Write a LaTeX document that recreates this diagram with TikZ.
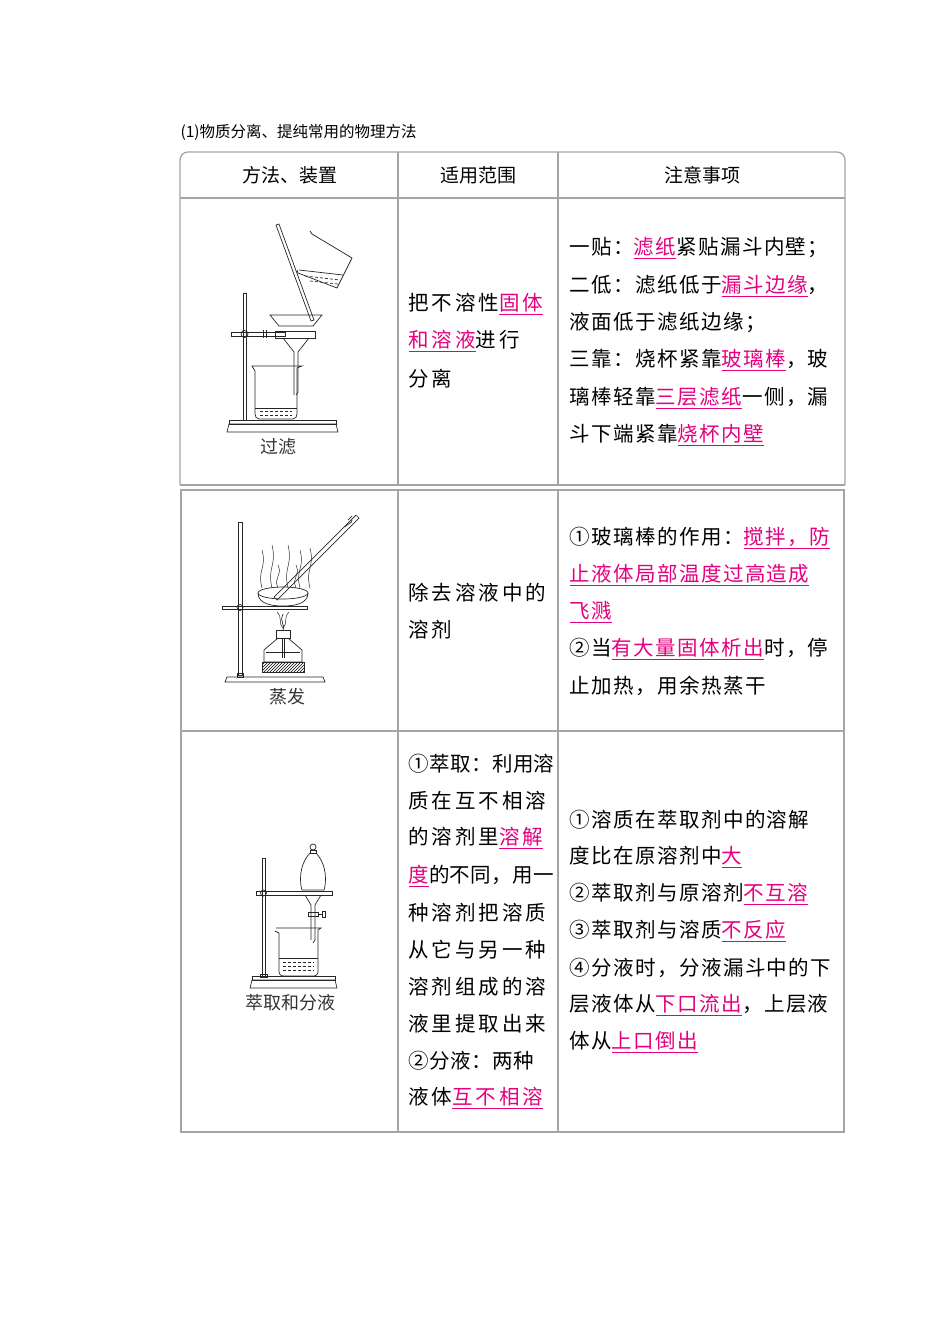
\documentclass[tikz,border=0pt]{standalone}
\usepackage{fontspec}
\setmainfont{Noto Sans CJK SC}
\usetikzlibrary{patterns}
\definecolor{pk}{RGB}{228,0,127}
\definecolor{bd}{RGB}{165,165,165}
\newcommand\hl[1]{{\color{pk}\underline{#1}}}
\tikzset{
 frame/.style={bd,line width=1.3pt},
 app/.style={line width=0.7pt,black!85},
 ta/.style={anchor=west,font=\fontsize{20.5}{20.5}\selectfont\addfontfeature{LetterSpace=7}},
 tb/.style={anchor=west,font=\fontsize{20.5}{20.5}\selectfont\addfontfeature{LetterSpace=14}},
 tc/.style={anchor=west,font=\fontsize{20.5}{20.5}\selectfont\addfontfeature{LetterSpace=2}},
 hd/.style={font=\fontsize{19}{19}\selectfont},
 lab/.style={font=\fontsize{18}{18}\selectfont,black!80},
}
\begin{document}
\begin{tikzpicture}[x=1pt,y=-1pt]
\useasboundingbox (0,0) rectangle (950,1344);
\node[anchor=west,font=\fontsize{15.5}{15.5}\selectfont] (title) at (177,132) {(1)物质分离、提纯常用的物理方法};
% frame 1
\draw[frame,rounded corners=8pt] (180,485) -- (180,152) -- (845,152) -- (845,485);
\draw[frame] (180,485) -- (845,485);
\draw[frame] (180,198) -- (845,198);
\draw[frame] (398,152) -- (398,485) (558,152) -- (558,485);
% frame 2
\draw[frame] (181,490) rectangle (844,1132);
\draw[frame] (181,731) -- (844,731);
\draw[frame] (398,490) -- (398,1132) (558,490) -- (558,1132);
% headers
\node[hd] (h1) at (290,175) {方法、装置};
\node[hd] (h2) at (478,175) {适用范围};
\node[hd] (h3) at (702,175) {注意事项};
% row 1
\node[tb] (a1) at (405,304) {把不溶性\hl{固体}};
\node[tb] (a2) at (405,341) {\hl{和溶液}进行};
\node[tb] (a3) at (405,379) {分离};
\node[ta] (b1) at (566,248) {一贴：\hl{滤纸}紧贴漏斗内壁；};
\node[ta] (b2) at (566,286) {二低：滤纸低于\hl{漏斗边缘}，};
\node[ta] (b3) at (566,323) {液面低于滤纸边缘；};
\node[ta] (b4) at (566,360) {三靠：烧杯紧靠\hl{玻璃棒}，玻};
\node[ta] (b5) at (566,398) {璃棒轻靠\hl{三层滤纸}一侧，漏};
\node[ta] (b6) at (566,435) {斗下端紧靠\hl{烧杯内壁}};
% row 2
\node[tb] (c1) at (405,593) {除去溶液中的};
\node[tb] (c2) at (405,630) {溶剂};
\node[ta] (d1) at (566,538) {①玻璃棒的作用：\hl{搅拌，防}};
\node[ta] (d2) at (566,575) {\hl{止液体局部温度过高造成}};
\node[ta] (d3) at (566,612) {\hl{飞溅}};
\node[ta] (d4) at (566,649) {②当\hl{有大量固体析出}时，停};
\node[ta] (d5) at (566,686) {止加热，用余热蒸干};
% row 3
\node[tc] (e1) at (405,764) {①萃取：利用溶};
\node[tb] (e2) at (405,801) {质在互不相溶};
\node[tb] (e3) at (405,838) {的溶剂里\hl{溶解}};
\node[tc] (e4) at (405,876) {\hl{度}的不同，用一};
\node[tb] (e5) at (405,913) {种溶剂把溶质};
\node[tb] (e6) at (405,950) {从它与另一种};
\node[tb] (e7) at (405,987) {溶剂组成的溶};
\node[tb] (e8) at (405,1024) {液里提取出来};
\node[tc] (e9) at (405,1061) {②分液：两种};
\node[tb] (e10) at (405,1098) {液体\hl{互不相溶}};
\node[ta] (f1) at (566,820) {①溶质在萃取剂中的溶解};
\node[ta] (f2) at (566,857) {度比在原溶剂中\hl{大}};
\node[ta] (f3) at (566,894) {②萃取剂与原溶剂\hl{不互溶}};
\node[ta] (f4) at (566,931) {③萃取剂与溶质\hl{不反应}};
\node[ta] (f5) at (566,968) {④分液时，分液漏斗中的下};
\node[ta] (f6) at (566,1005) {层液体从\hl{下口流出}，上层液};
\node[ta] (f7) at (566,1042) {体从\hl{上口倒出}};
% labels
\node[lab] (l1) at (278,447) {过滤};
\node[lab] (l2) at (287,697) {蒸发};
\node[lab] (l3) at (290,1003) {萃取和分液};

% ---- filtration apparatus
\begin{scope}[app]
\draw (227,432) -- (229,424) -- (336,424) -- (338,432) -- cycle;
\draw (229,420) rectangle (336,424);
\draw (243,293) rectangle (246,420);
\draw (231,332) rectangle (285,336);
\draw (244.5,334) circle (3.5);
\draw (263,330) -- (263,338) (266,330) -- (266,338);
\draw (275,331) rectangle (315,338);
\draw (270,315) -- (322,315) -- (313,326) -- (279,326) -- cycle;
\draw (283,338) -- (294,352) -- (294,395) (309,338) -- (298,352) -- (298,392) -- (296,395);
\draw (255,371) -- (255,414) to[out=-90,in=180] (259,419) -- (293,419) to[out=0,in=-90] (297,414) -- (297,368) -- (302,366) -- (252,366) -- (255,371);
\draw (255,408) -- (297,408);
\draw[densely dashed] (260,411) -- (292,411) (260,415) -- (292,415);
\draw (276,225) -- (279,224) -- (314,320) -- (311,321) -- cycle;
% tilted beaker
\draw (310,231) -- (312,234) -- (352,258) -- (337,288) -- (298,273) -- (297,270);
\draw (299,270) -- (343,275);
\draw[densely dashed] (305,276) -- (340,280) (310,281) -- (338,284);
\end{scope}

% ---- evaporation apparatus
\begin{scope}[app]
\draw (225,682) -- (227,677) -- (323,677) -- (325,682) -- cycle;
\draw (238,522) rectangle (242,675);
\draw (237,673) rectangle (243,677);
\draw (222,606) rectangle (307,609);
\draw (240,607.5) circle (3);
\draw (258,593) to[out=-90,in=180] (283,606) to[out=0,in=-90] (308,593);
\draw (283,593) ellipse (25 and 6);
\draw (274,597) -- (356,515) -- (359,518) -- (277,600) -- cycle;
\draw (345,527) to[out=60,in=-90] (352,520) (348,520) -- (352,516);
\foreach \x/\h in {262/550,272/545,288/545,300/550,310/548,278/565,296/565}{
 \draw[line width=0.5pt] (\x,588) .. controls (\x-5,{(\h+588)/2}) and (\x+5,{(\h+588)/2}) .. (\x,\h);}
\draw[line width=0.5pt] (277,612) .. controls (283,618) and (278,624) .. (283,628) .. controls (288,624) and (283,618) .. (289,612);
\draw (283,614) .. controls (279,622) and (286,626) .. (283,630);
\draw (276,630) rectangle (290,638);
\draw (278,638) -- (264,650) -- (264,662) -- (302,662) -- (302,650) -- (288,638);
\draw (282,638) -- (282,658) (284,638) -- (284,658);
\draw (266,652) -- (300,652);
\draw[pattern=north east lines] (262,662) rectangle (304,672);
\end{scope}

% ---- separation apparatus
\begin{scope}[app]
\draw (250,988) -- (252,980) -- (335,980) -- (337,988) -- cycle;
\draw (252,976) rectangle (335,980);
\draw (262,858) rectangle (265,976);
\draw (260,974) rectangle (267,977);
\draw (256,891) rectangle (332,895);
\draw (263.5,893) circle (3);
\draw (313,847) circle (3);
\draw (310,850) rectangle (316,853);
\draw (310,853) .. controls (298,866) and (300,884) .. (302,890) -- (324,890) .. controls (326,884) and (328,866) .. (316,853);
\draw (305,895) -- (311,905) -- (311,940) (321,895) -- (315,905) -- (315,940) -- (313,943);
\draw (308,912) rectangle (318,916);
\draw (318,914) -- (322,914) (322,911) rectangle (325,917);
\draw (275,931) -- (279,933) -- (279,972) to[out=-90,in=180] (283,976) -- (314,976) to[out=0,in=-90] (318,972) -- (318,930) -- (321,928) -- (276,928);
\draw (279,958) -- (318,958);
\draw[densely dashed] (283,962) -- (314,962) (283,966) -- (314,966) (283,970) -- (314,970);
\end{scope}
\end{tikzpicture}
\end{document}
